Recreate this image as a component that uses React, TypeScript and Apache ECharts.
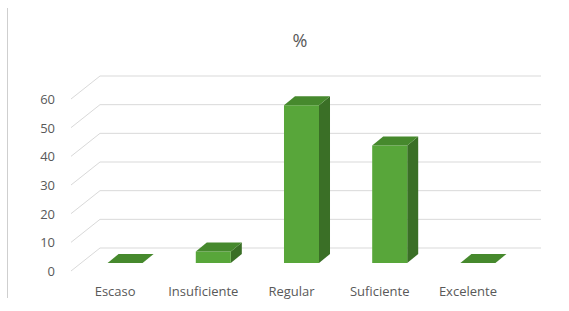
import React, { useEffect, useRef } from "react";
import * as echarts from "echarts";

const categories = ["Escaso", "Insuficiente", "Regular", "Suficiente", "Excelente"];
const percentValues = [0, 4, 55, 41, 0];
const gridTicks = [0, 10, 20, 30, 40, 50, 60];
const titleText = "%";

const DEPTH_X = 29;
const DEPTH_Y = -23;
const BAR_OFF_X = 10;
const BAR_OFF_Y = -8;
const BAR_DX = 11;
const BAR_DY = -9;
const BAR_RATIO = 0.397;

const FRONT = "#58a63a";
const TOP = "#46892d";
const SIDE = "#3a6f26";
const GRID = "#d9d9d9";
const TEXT = "#595959";
const FONT = "'Open Sans', sans-serif";

export default function App() {
  const ref = useRef<HTMLDivElement>(null);
  useEffect(() => {
    if (!ref.current) return;
    const chart = echarts.init(ref.current, null, { renderer: "svg" });
    chart.setOption({
      animation: false,
      backgroundColor: "#ffffff",
      title: {
        text: titleText,
        left: 295,
        top: 26,
        textAlign: "center",
        textStyle: { fontFamily: FONT, fontSize: 18, fontWeight: "normal", color: TEXT },
      },
      grid: { left: 71, top: 99, width: 441, height: 172, containLabel: false },
      xAxis: {
        type: "category",
        data: categories,
        axisLine: { show: false },
        axisTick: { show: false },
        splitLine: { show: false },
        axisLabel: { color: TEXT, fontFamily: FONT, fontSize: 13, margin: 13, interval: 0 },
      },
      yAxis: {
        type: "value",
        min: 0,
        max: 60,
        interval: 10,
        axisLine: { show: false },
        axisTick: { show: false },
        splitLine: { show: false },
        axisLabel: { color: TEXT, fontFamily: FONT, fontSize: 13, margin: 16 },
      },
      graphic: {
        elements: [
          {
            type: "line",
            shape: { x1: 7.5, y1: 8, x2: 7.5, y2: 298 },
            style: { stroke: "#cfcfcf", lineWidth: 1 },
            silent: true,
            z: 10,
          },
        ],
      },
      series: [
        {
          type: "custom",
          name: "grid3d",
          silent: true,
          data: gridTicks.map((t) => [0, t]),
          renderItem: (params: any, api: any) => {
            const cs = params.coordSys;
            const y = api.coord([0, api.value(1)])[1];
            const left = cs.x;
            const right = cs.x + cs.width;
            return {
              type: "polyline",
              shape: {
                points: [
                  [left, y],
                  [left + DEPTH_X, y + DEPTH_Y],
                  [right + DEPTH_X, y + DEPTH_Y],
                ],
              },
              style: { stroke: GRID, lineWidth: 1, fill: "none" },
            };
          },
          z: 1,
        },
        {
          type: "custom",
          name: "%",
          data: percentValues.map((v, i) => [i, v]),
          renderItem: (params: any, api: any) => {
            const i = api.value(0);
            const v = api.value(1);
            const topPt = api.coord([i, v]);
            const basePt = api.coord([i, 0]);
            const bw = api.size([1, 0])[0] * BAR_RATIO;
            const x0 = topPt[0] - bw / 2 + BAR_OFF_X;
            const x1 = x0 + bw;
            const yt = topPt[1] + BAR_OFF_Y;
            const yb = basePt[1] + BAR_OFF_Y;
            const children: any[] = [];
            if (yb - yt > 0.5) {
              children.push({
                type: "polygon",
                shape: { points: [[x1, yt], [x1 + BAR_DX, yt + BAR_DY], [x1 + BAR_DX, yb + BAR_DY], [x1, yb]] },
                style: { fill: SIDE },
              });
              children.push({
                type: "rect",
                shape: { x: x0, y: yt, width: bw, height: yb - yt },
                style: { fill: FRONT },
              });
            }
            children.push({
              type: "polygon",
              shape: { points: [[x0, yt], [x1, yt], [x1 + BAR_DX, yt + BAR_DY], [x0 + BAR_DX, yt + BAR_DY]] },
              style: { fill: TOP },
            });
            return { type: "group", children };
          },
          z: 2,
        },
      ],
    });
    return () => chart.dispose();
  }, []);
  return <div ref={ref} style={{ position: "absolute", left: 0, top: 0, width: 569, height: 311 }} />;
}
